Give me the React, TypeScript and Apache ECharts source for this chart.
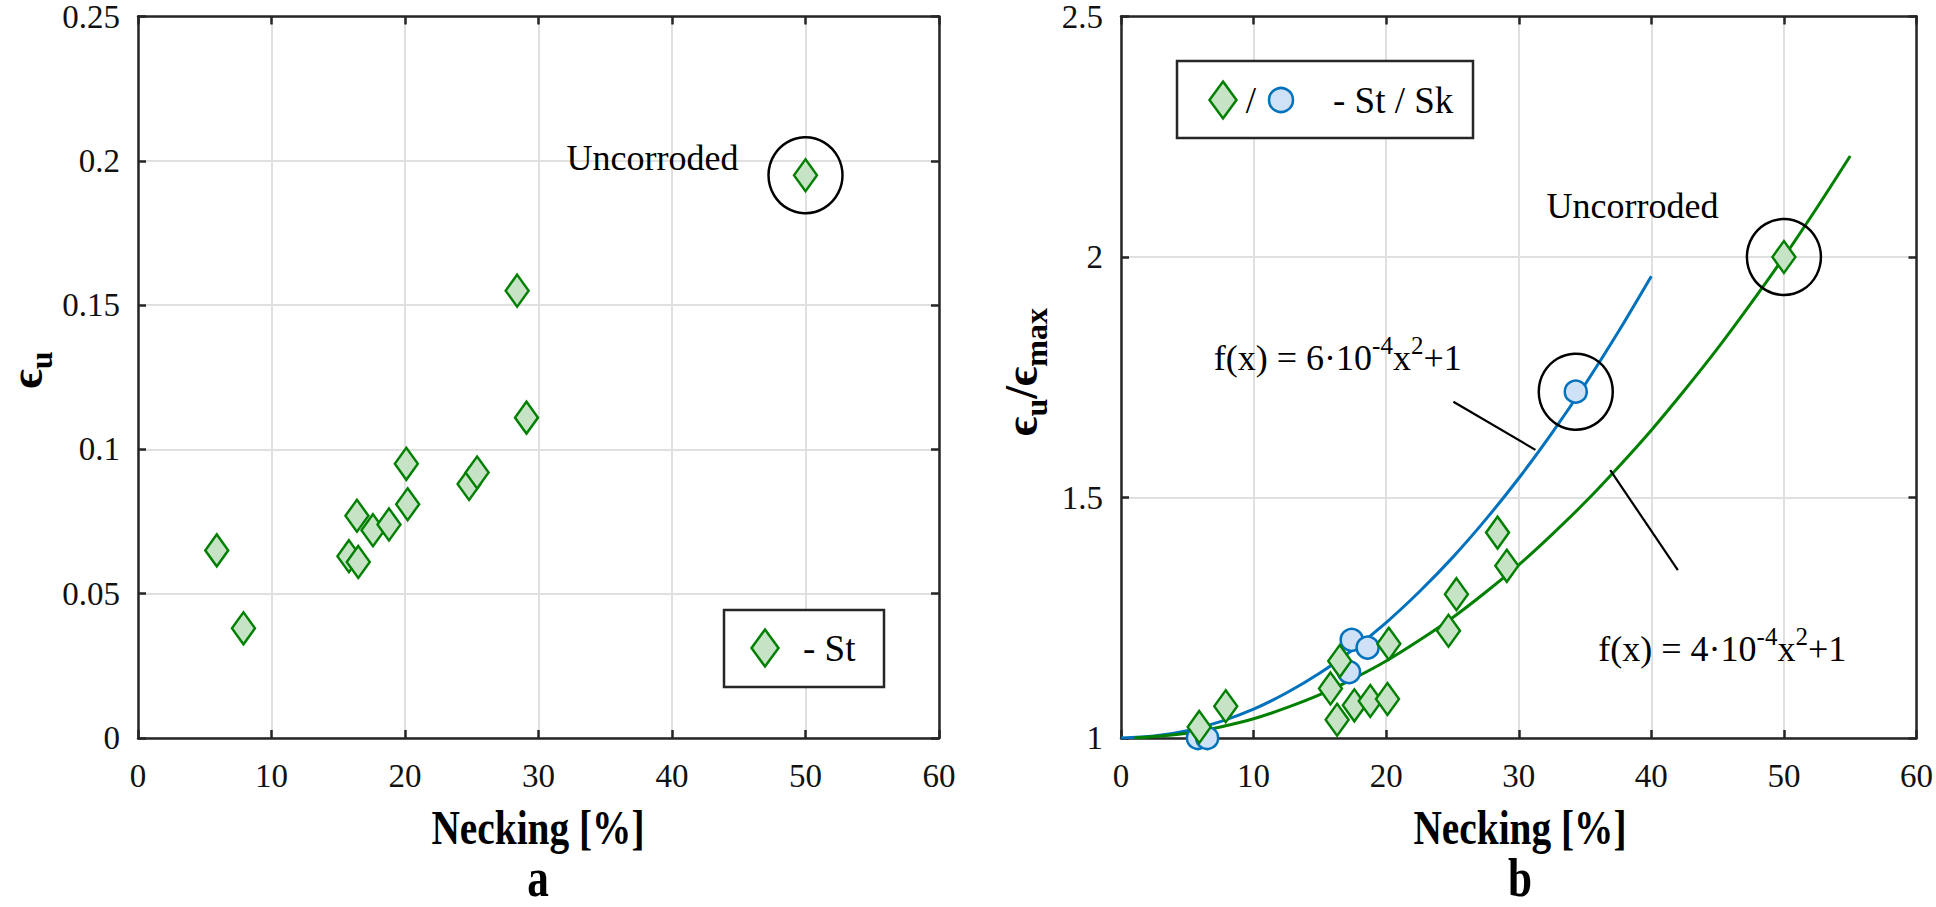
import React, { useEffect, useRef } from 'react';
import * as echarts from 'echarts';

// Panel a: uniform strain vs necking (St)
const neckingA = [5.9, 7.9, 15.8, 16.4, 16.5, 17.6, 18.8, 20.1, 20.2, 24.8, 25.4, 28.4, 29.1, 50];
const strainA = [0.065, 0.038, 0.063, 0.077, 0.061, 0.072, 0.074, 0.095, 0.081, 0.088, 0.092, 0.155, 0.111, 0.195];

// Panel b: normalised strain (St diamonds)
const neckingBSt = [5.9, 7.9, 15.8, 16.3, 16.5, 17.6, 18.8, 20.1, 20.2, 24.7, 25.3, 28.4, 29.1, 50];
const ratioBSt = [1.023, 1.066, 1.103, 1.038, 1.16, 1.068, 1.077, 1.081, 1.196, 1.223, 1.299, 1.427, 1.358, 2.0];

// Panel b: Sk circles
const neckingBSk = [5.8, 6.5, 17.2, 17.4, 18.6, 34.3];
const ratioBSk = [1.0, 1.0, 1.137, 1.204, 1.188, 1.72];

// Fit curves
const fitSkX = [0, 2.5, 5, 7.5, 10, 12.5, 15, 17.5, 20, 22.5, 25, 27.5, 30, 32.5, 35, 37.5, 40];
const fitSkY = [1.0, 1.004, 1.015, 1.034, 1.06, 1.094, 1.135, 1.184, 1.24, 1.304, 1.375, 1.454, 1.54, 1.634, 1.735, 1.844, 1.96];
const fitStX = [1, 2.5, 5, 7.5, 10, 12.5, 15, 17.5, 20, 22.5, 25, 27.5, 30, 32.5, 35, 37.5, 40, 42.5, 45, 47.5, 50, 52.5, 55];
const fitStY = [1.0, 1.003, 1.01, 1.023, 1.04, 1.063, 1.09, 1.123, 1.16, 1.203, 1.25, 1.303, 1.36, 1.423, 1.49, 1.563, 1.64, 1.723, 1.81, 1.903, 2.0, 2.103, 2.21];

// Axis ticks
const xTicks = { min: 0, max: 60, interval: 10 };
const yTicksA = { min: 0, max: 0.25, interval: 0.05 };
const yTicksB = { min: 1, max: 2.5, interval: 0.5 };

// Annotation anchors (data coordinates)
const uncorrodedA = [50, 0.195];
const uncorrodedB = [50, 2.0];
const highlightSk = [34.3, 1.72];

const SERIF = 'Liberation Serif';
const GREEN = '#008000';
const GREEN_FILL = '#c6e3c6';
const BLUE = '#0072bd';
const BLUE_FILL = '#cfe1f6';
const AXIS = '#262626';
const DIAMOND = 'path://M0,-1L0.62,0L0,1L-0.62,0Z';

const zip = (xs: number[], ys: number[]) => xs.map((x, i) => [x, ys[i]]);

function axisBase(extra: any) {
  return {
    type: 'value',
    axisLine: { show: true, onZero: false, lineStyle: { color: AXIS, width: 2.5 } },
    axisTick: { show: true, inside: true, length: 8, lineStyle: { color: AXIS, width: 2.5 } },
    splitLine: { show: false },
    axisLabel: { show: false },
    ...extra,
  };
}

const labelStyle = { show: true, fontFamily: SERIF, fontSize: 33, color: '#111' };
const gridLine = { show: true, lineStyle: { color: '#e0e0e0', width: 2 } };

const ellipseMark = (coord: number[]) => ({
  silent: true,
  symbol: 'circle',
  symbolSize: [74, 76],
  itemStyle: { color: 'rgba(0,0,0,0)', borderColor: '#000', borderWidth: 2.5 },
  label: { show: false },
  data: [{ coord }],
});

export default function App() {
  const ref = useRef<HTMLDivElement>(null);
  useEffect(() => {
    document.body.style.margin = '0';
    document.body.style.overflow = 'hidden';
    const chart = echarts.init(ref.current!, null, { renderer: 'svg' });
    chart.setOption({
      animation: false,
      backgroundColor: '#fff',
      textStyle: { fontFamily: SERIF },
      grid: [
        { left: 138, top: 10, width: 801, height: 728 },
        { left: 1121, top: 10, width: 799, height: 728 },
      ],
      xAxis: [
        axisBase({ gridIndex: 0, position: 'bottom', ...xTicks, splitLine: gridLine, axisLabel: { ...labelStyle, margin: 21 } }),
        axisBase({ gridIndex: 0, position: 'top', ...xTicks }),
        axisBase({ gridIndex: 1, position: 'bottom', ...xTicks, splitLine: gridLine, axisLabel: { ...labelStyle, margin: 21 } }),
        axisBase({ gridIndex: 1, position: 'top', ...xTicks }),
      ],
      yAxis: [
        axisBase({ gridIndex: 0, position: 'left', ...yTicksA, splitLine: gridLine, axisLabel: { ...labelStyle, margin: 18 } }),
        axisBase({ gridIndex: 0, position: 'right', ...yTicksA }),
        axisBase({ gridIndex: 1, position: 'left', ...yTicksB, splitLine: gridLine, axisLabel: { ...labelStyle, margin: 18 } }),
        axisBase({ gridIndex: 1, position: 'right', ...yTicksB }),
      ],
      series: [
        {
          name: 'St a', type: 'scatter', xAxisIndex: 0, yAxisIndex: 0, clip: false, z: 3,
          symbol: DIAMOND, symbolSize: [23, 32],
          itemStyle: { color: GREEN_FILL, borderColor: GREEN, borderWidth: 2.5, opacity: 1 },
          data: zip(neckingA, strainA),
          markPoint: ellipseMark(uncorrodedA),
        },
        {
          name: 'Sk b', type: 'scatter', xAxisIndex: 2, yAxisIndex: 2, clip: false, z: 2,
          symbol: 'circle', symbolSize: 22,
          itemStyle: { color: BLUE_FILL, borderColor: BLUE, borderWidth: 2.5, opacity: 1 },
          data: zip(neckingBSk, ratioBSk),
          markPoint: ellipseMark(highlightSk),
        },
        {
          name: 'fit Sk', type: 'line', xAxisIndex: 2, yAxisIndex: 2, smooth: 0.3, showSymbol: false, z: 2,
          lineStyle: { color: BLUE, width: 3 }, data: zip(fitSkX, fitSkY),
        },
        {
          name: 'fit St', type: 'line', xAxisIndex: 2, yAxisIndex: 2, smooth: 0.3, showSymbol: false, z: 2,
          lineStyle: { color: GREEN, width: 3 }, data: zip(fitStX, fitStY),
        },
        {
          name: 'St b', type: 'scatter', xAxisIndex: 2, yAxisIndex: 2, clip: false, z: 3,
          symbol: DIAMOND, symbolSize: [23, 32],
          itemStyle: { color: GREEN_FILL, borderColor: GREEN, borderWidth: 2.5, opacity: 1 },
          data: zip(neckingBSt, ratioBSt),
          markPoint: ellipseMark(uncorrodedB),
        },
      ],
    });

    const pa = (x: number, y: number) => chart.convertToPixel({ seriesIndex: 0 }, [x, y]) as number[];
    const pb = (x: number, y: number) => chart.convertToPixel({ seriesIndex: 1 }, [x, y]) as number[];

    const txt = (x: number, y: number, text: string, size: number, extra: any = {}, styleExtra: any = {}) => ({
      type: 'text', x, y, z: 10, ...extra,
      style: { text, fontFamily: SERIF, fontSize: size, fill: '#000', align: 'left', verticalAlign: 'middle', ...styleExtra },
    });
    const line = (p1: number[], p2: number[]) => ({
      type: 'line', z: 10, shape: { x1: p1[0], y1: p1[1], x2: p2[0], y2: p2[1] },
      style: { stroke: '#000', lineWidth: 2.2 },
    });
    const diamond = (cx: number, cy: number, w: number, h: number) => ({
      type: 'polygon', z: 11,
      shape: { points: [[cx, cy - h / 2], [cx + w / 2, cy], [cx, cy + h / 2], [cx - w / 2, cy]] },
      style: { fill: GREEN_FILL, stroke: GREEN, lineWidth: 2.5 },
    });
    const box = (x: number, y: number, w: number, h: number) => ({
      type: 'rect', z: 9, shape: { x, y, width: w, height: h },
      style: { fill: '#fff', stroke: AXIS, lineWidth: 2.5 },
    });

    const formulaRich = {
      m: { fontFamily: SERIF, fontSize: 36, lineHeight: 50, fill: '#000' },
      s: { fontFamily: SERIF, fontSize: 25, lineHeight: 25, verticalAlign: 'top', fill: '#000' },
    };
    const yRich = {
      e: { fontFamily: SERIF, fontSize: 46, fontWeight: 'bold', lineHeight: 46, verticalAlign: 'top', fill: '#000' },
      u: { fontFamily: SERIF, fontSize: 32, fontWeight: 'bold', lineHeight: 54, verticalAlign: 'bottom', fill: '#000' },
    };

    const ua = pa(32.1, 0.201);
    const ub = pb(32.1, 2.105);
    const f1 = pb(7.0, 1.79);
    const f2 = pb(36.0, 1.186);

    chart.setOption({
      graphic: [
        txt(ua[0], ua[1], 'Uncorroded', 36),
        txt(ub[0], ub[1], 'Uncorroded', 36),
        {
          type: 'text', x: f1[0], y: f1[1], z: 10,
          style: { text: '{m|f(x) = 6·10}{s|-4}{m|x}{s|2}{m|+1}', rich: formulaRich, fontFamily: SERIF, align: 'left', verticalAlign: 'middle' },
        },
        {
          type: 'text', x: f2[0], y: f2[1], z: 10,
          style: { text: '{m|f(x) = 4·10}{s|-4}{m|x}{s|2}{m|+1}', rich: formulaRich, fontFamily: SERIF, align: 'left', verticalAlign: 'middle' },
        },
        line(pb(25.07, 1.699), pb(31.26, 1.599)),
        line(pb(36.9, 1.557), pb(42.0, 1.349)),
        // legend a
        box(724, 610, 160, 77),
        diamond(765, 648, 27, 37),
        txt(803, 648, '- St', 37),
        // legend b
        box(1177, 61, 296, 77),
        diamond(1223, 100, 27, 37),
        txt(1251, 100, '/', 37, {}, { align: 'center' }),
        { type: 'circle', z: 11, shape: { cx: 1281, cy: 100, r: 12 }, style: { fill: BLUE_FILL, stroke: BLUE, lineWidth: 2.5 } },
        txt(1333, 100, '- St / Sk', 37),
        // axis titles
        txt(538, 828, 'Necking [%]', 48, { scaleX: 0.82 }, { fontWeight: 'bold', align: 'center' }),
        txt(538, 878, 'a', 54, { scaleX: 0.8 }, { fontWeight: 'bold', align: 'center' }),
        txt(1520, 828, 'Necking [%]', 48, { scaleX: 0.82 }, { fontWeight: 'bold', align: 'center' }),
        txt(1520, 878, 'b', 54, { scaleX: 0.8 }, { fontWeight: 'bold', align: 'center' }),
        {
          type: 'text', x: 30, y: 370, rotation: Math.PI / 2, z: 10,
          style: { text: '{e|ϵ}{u|u}', rich: yRich, fontFamily: SERIF, align: 'center', verticalAlign: 'middle' },
        },
        {
          type: 'text', x: 1025, y: 372, rotation: Math.PI / 2, z: 10,
          style: { text: '{e|ϵ}{u|u}{e|/ϵ}{u|max}', rich: yRich, fontFamily: SERIF, align: 'center', verticalAlign: 'middle' },
        },
      ],
    });
    return () => chart.dispose();
  }, []);
  return <div ref={ref} style={{ width: 1936, height: 907 }} />;
}
